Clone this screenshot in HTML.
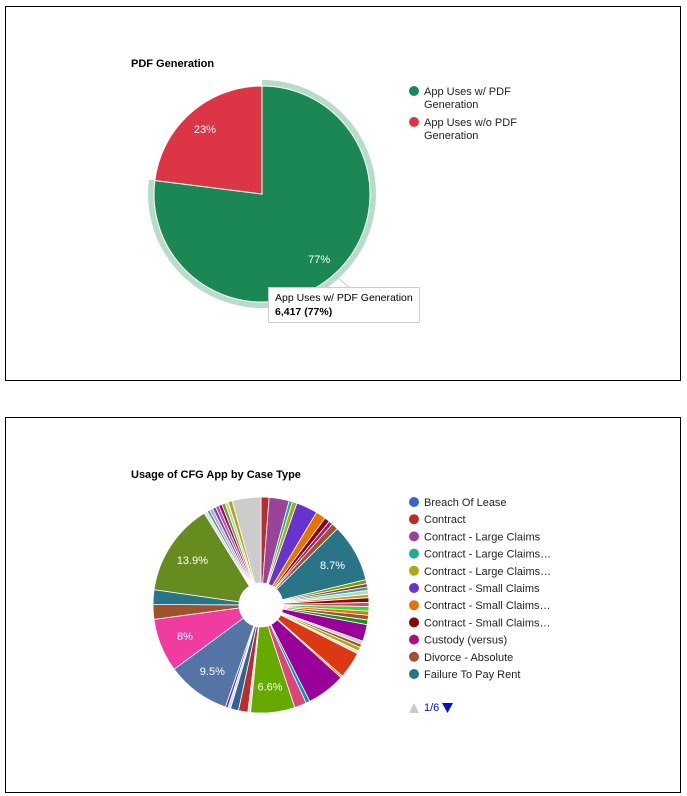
<!DOCTYPE html>
<html><head><meta charset="utf-8"><style>
body{margin:0;width:687px;height:796px;background:#fff;font-family:"Liberation Sans",Arial,sans-serif;position:relative;overflow:hidden}
.box{position:absolute;border:1px solid #000;background:#fff}
svg{position:absolute;left:0;top:0}
</style></head><body>
<div class="box" style="left:5px;top:6px;width:674px;height:373px"></div>
<div class="box" style="left:5px;top:417px;width:674px;height:374px"></div>
<svg id="s" width="687" height="796"></svg>
<script>
const pdfCategories=["App Uses w/ PDF Generation","App Uses w/o PDF Generation"];
const pdfValues=[6417,1917];
const pdfColors=["#1a8754","#dc3545"];
const caseValues=[1.2,3.0,0.5,0.7,3.2,1.5,0.8,0.6,1.0,8.7,0.6,0.5,0.5,0.6,0.5,0.7,0.6,0.7,0.6,0.7,0.7,2.5,0.5,0.5,0.6,0.4,4.0,0.3,5.8,0.6,1.8,6.6,0.4,1.4,1.2,0.4,0.4,9.5,8.0,2.2,2.2,13.9,0.5,0.4,0.5,0.5,0.5,0.5,0.5,0.5,0.6,4.3];
const caseColors=["#b82e2e","#994499","#22aa99","#aaaa11","#6633cc","#e67300","#8b0707","#aa1188","#a0522d","#2a7488","#66aa00","#b82e2e","#22aa99","#cccccc","#aaaa11","#8b0707","#dd4477","#33dd33","#e67300","#a0522d","#109618","#990099","#cccccc","#a0522d","#aaaa11","#dddddd","#dc3912","#ff9900","#990099","#0099c6","#dd4477","#66aa00","#dddddd","#b82e2e","#316395","#dddddd","#6633cc","#5574a6","#f03ca0","#a0522d","#2a7488","#668c1f","#dddddd","#22aa99","#ff88bb","#3366cc","#dd4477","#990099","#66aa00","#cccccc","#aaaa11","#cccccc"];
const legendLabels=["Breach Of Lease","Contract","Contract - Large Claims","Contract - Large Claims…","Contract - Large Claims…","Contract - Small Claims","Contract - Small Claims…","Contract - Small Claims…","Custody (versus)","Divorce - Absolute","Failure To Pay Rent"];
const legendColors=["#3366cc","#b82e2e","#994499","#22aa99","#aaaa11","#6633cc","#e67300","#8b0707","#aa1188","#a0522d","#2a7488"];
const NS="http://www.w3.org/2000/svg",s=document.getElementById('s');
function mk(t,a,p){const e=document.createElementNS(NS,t);for(const k in a)e.setAttribute(k,a[k]);(p||s).appendChild(e);return e;}
function pt(cx,cy,r,f){const a=f*2*Math.PI;return [cx+r*Math.sin(a),cy-r*Math.cos(a)];}
function arc(cx,cy,r,ri,f0,f1){const [x0,y0]=pt(cx,cy,r,f0),[x1,y1]=pt(cx,cy,r,f1),l=(f1-f0)>0.5?1:0;
 if(!ri)return `M${cx},${cy}L${x0},${y0}A${r},${r} 0 ${l} 1 ${x1},${y1}Z`;
 const [a0,b0]=pt(cx,cy,ri,f1),[a1,b1]=pt(cx,cy,ri,f0);
 return `M${x0},${y0}A${r},${r} 0 ${l} 1 ${x1},${y1}L${a0},${b0}A${ri},${ri} 0 ${l} 0 ${a1},${b1}Z`;}
function txt(x,y,t,o){const e=mk('text',Object.assign({x:x,y:y,'font-size':11,fill:'#222'},o||{}));e.textContent=t;return e;}
// chart 1
let e=txt(131,67,"PDF Generation",{'font-weight':'bold',fill:'#000'});


const tot1=pdfValues.reduce((a,b)=>a+b,0);let c=0;
const f0=pdfValues[0]/tot1;
e=mk('path',{d:arc(262,194,114,108,0,f0),fill:'#b9dbc9'});


pdfValues.forEach((v,i)=>{const f=v/tot1;
 const p=mk('path',{d:arc(262,194,108,0,c,c+f),fill:pdfColors[i],stroke:'#fff','stroke-width':1});
 
 
 const [lx,ly]=pt(262,194,0.8*108,c+f/2);
 const t=txt(lx,ly+4,Math.round(f*100)+'%',{fill:'#fff','text-anchor':'middle'});
 
 
 c+=f;});
pdfCategories.forEach((n,i)=>{const y=91+i*31;
 const ci=mk('circle',{cx:414,cy:y,r:5,fill:pdfColors[i]});
 
 
 const w=n.split(' ');const l1=w.slice(0,-1).join(' '),l2=w[w.length-1];
 const t=txt(424,y+4,l1);
 
 txt(424,y+17,l2);});
mk('path',{d:'M336,276 L352,290',stroke:'#ccc',fill:'none'});
e=mk('rect',{x:268.5,y:287.5,width:151,height:35,fill:'#fff',stroke:'#ccc'});


txt(275,301,pdfCategories[0],{fill:'#000','font-size':10.5});
txt(275,315,pdfValues[0].toLocaleString('en-US')+' ('+Math.round(f0*100)+'%)',{fill:'#000','font-weight':'bold','font-size':10.5});
// chart 2
e=txt(131,478,"Usage of CFG App by Case Type",{'font-weight':'bold',fill:'#000'});


const tot2=caseValues.reduce((a,b)=>a+b,0);c=0;
caseValues.forEach((v,i)=>{const f=v/tot2;
 const p=mk('path',{d:arc(261,605,108,22,c,c+f),fill:caseColors[i],stroke:'#fff','stroke-width':0.8});
 
 
 if(f>=0.06){const [lx,ly]=pt(261,605,82,c+f/2);
  const t=txt(lx,ly+4,(Math.round(f*1000)/10)+'%',{fill:'#fff','text-anchor':'middle'});
  
  }
 c+=f;});
legendLabels.forEach((n,i)=>{const y=502+i*17.2;
 const ci=mk('circle',{cx:414,cy:y,r:5,fill:legendColors[i]});
 
 
 const t=txt(424,y+4,n);
 });
e=mk('path',{d:'M409,713 L419,713 L414,703 Z',fill:'#ccc'});


e=txt(424,711,'1/6',{fill:'#0011cc'});


e=mk('path',{d:'M442,703 L453,703 L447.5,713 Z',fill:'#0011cc'});


</script>
</body></html>
